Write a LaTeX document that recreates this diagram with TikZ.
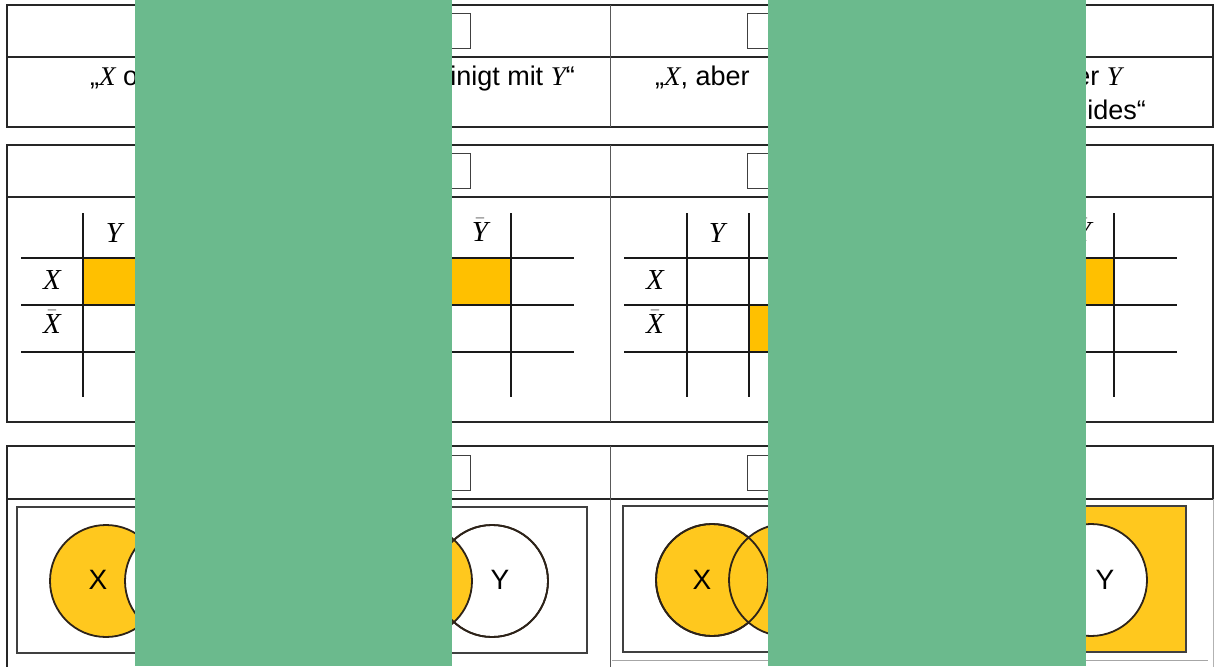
\documentclass[tikz,border=0pt]{standalone}
\usepackage{fontspec}
\setmainfont{Liberation Sans}
\newfontfamily\varfont{Liberation Serif}
\usepackage{amsmath}
\usepackage{tikz}
\usetikzlibrary{positioning}
\definecolor{coverGreen}{RGB}{107,186,141}
\definecolor{cellGold}{RGB}{255,192,0}
\definecolor{vennGold}{RGB}{255,200,30}
\definecolor{vennLine}{RGB}{45,35,25}
\newcommand{\sv}[1]{{\varfont\itshape #1}}
\newcommand{\svbar}[1]{$\bar{\text{\sv{#1}}}$}

\begin{document}
\begin{tikzpicture}[x=1pt, y=-1pt,
    every node/.style={inner sep=0pt, font=\fontsize{27}{32}\selectfont},
    outer/.style={line width=1.5pt, draw=black!85},
    inner/.style={line width=0.8pt, draw=black!65},
    grid/.style={line width=1.3pt, draw=black!90},
    tickbox/.style={draw=black!75, line width=1.4pt, minimum width=35pt, minimum height=35pt, anchor=north west},
    lbl/.style={font=\fontsize{29}{30}\selectfont},
    vennlbl/.style={font=\fontsize{28}{30}\selectfont},
    venn/.style={circle, draw=vennLine, line width=1.8pt, minimum size=112pt},
    vennbox/.style={draw=black!75, line width=2pt}]
    \useasboundingbox (0,0) rectangle (1214,666);

    % first table: wording
    \draw[outer] (7,5) rectangle (1213,127);
    \draw[outer] (7,57) -- (1213,57);
    \draw[inner] (610,5) -- (610,127);
    \node[tickbox] (tickA1) at (435,13) {};
    \node[tickbox] (tickA2) at (747,13) {};
    \node[anchor=base west] (wordL) at (90,86) {„\sv{X} oder};
    \node[anchor=base east] (wordLend) at (575,86) {vereinigt mit \sv{Y}“};
    \node[anchor=base west] (wordR) at (655,86) {„\sv{X}, aber};
    \node[anchor=base east] (wordRend) at (1122,86) {oder \sv{Y}};
    \node[anchor=base east] (wordRtwo) at (1146,119) {beides“};

    % second table: four-field tables
    \draw[outer] (7,145) rectangle (1213,422);
    \draw[outer] (7,197) -- (1213,197);
    \draw[inner] (610,145) -- (610,422);
    \node[tickbox] (tickB1) at (435,153) {};
    \node[tickbox] (tickB2) at (747,153) {};
    \fill[cellGold] (83,258) rectangle (145,305);
    \fill[cellGold] (449,258) rectangle (511,305);
    \draw[grid] (21,258) -- (574,258) (21,305) -- (574,305) (21,352) -- (574,352);
    \draw[grid] (83,213) -- (83,397) (145,213) -- (145,397) (449,213) -- (449,397) (511,213) -- (511,397);
    \node[lbl] (rowX1) at (52,280) {\sv{X}};
    \node[lbl] (rowXbar1) at (52,322) {\svbar{X}};
    \node[lbl] (colY1) at (114,233) {\sv{Y}};
    \node[lbl] (colYbar1) at (480,230) {\svbar{Y}};
    \fill[cellGold] (749,305) rectangle (811,352);
    \fill[cellGold] (1052,258) rectangle (1114,305);
    \draw[grid] (624,258) -- (1177,258) (624,305) -- (1177,305) (624,352) -- (1177,352);
    \draw[grid] (687,213) -- (687,397) (749,213) -- (749,397) (1052,213) -- (1052,397) (1114,213) -- (1114,397);
    \node[lbl] (rowX2) at (655,280) {\sv{X}};
    \node[lbl] (rowXbar2) at (655,322) {\svbar{X}};
    \node[lbl] (colY2) at (717,233) {\sv{Y}};
    \node[lbl] (colYbar2) at (1083,230) {\svbar{Y}};

    % third table: Venn diagrams
    \draw[outer] (7,690) -- (7,446) -- (1213,446) -- (1213,499);
    \draw[outer] (7,499) -- (1213,499);
    \draw[inner] (610,446) -- (610,690);
    \draw[line width=0.8pt, draw=black!30] (1213,499) -- (1213,690);
    \node[tickbox] (tickC1) at (435,455) {};
    \node[tickbox] (tickC2) at (747,455) {};
    \draw[vennbox] (17,507) rectangle (587,653);
    \node[venn, fill=vennGold] (setX1) at (106,581) {};
    \node[venn, fill=white] (setY1) at (181,581) {};
    \node[venn, fill=white] (setY2) at (492,581) {};
    \node[venn, fill=vennGold] (setX2) at (416,581) {};
    \draw[vennLine, line width=1.8pt] (setY2) circle (56pt);
    \node[vennlbl] (nameX1) at (98,580) {X};
    \node[vennlbl] (nameY2) at (500,580) {Y};
    \fill[vennGold] (930,506) rectangle (1186,652);
    \draw[vennbox] (623,506) rectangle (1186,652);
    \node[venn, fill=vennGold] (setX3) at (712,580) {};
    \node[venn, fill=vennGold] (setY3) at (785,580) {};
    \draw[vennLine, line width=1.8pt] (setX3) circle (56pt);
    \node[venn, fill=white] (setY4) at (1091,580) {};
    \node[vennlbl] (nameX3) at (702,580) {X};
    \node[vennlbl] (nameY4) at (1105,580) {Y};
    \draw[line width=1pt, draw=black!35] (612,660) -- (1208,660);

    % cover strips
    \fill[coverGreen] (135,0) rectangle (452,666);
    \fill[coverGreen] (768,0) rectangle (1086,666);
\end{tikzpicture}
\end{document}
